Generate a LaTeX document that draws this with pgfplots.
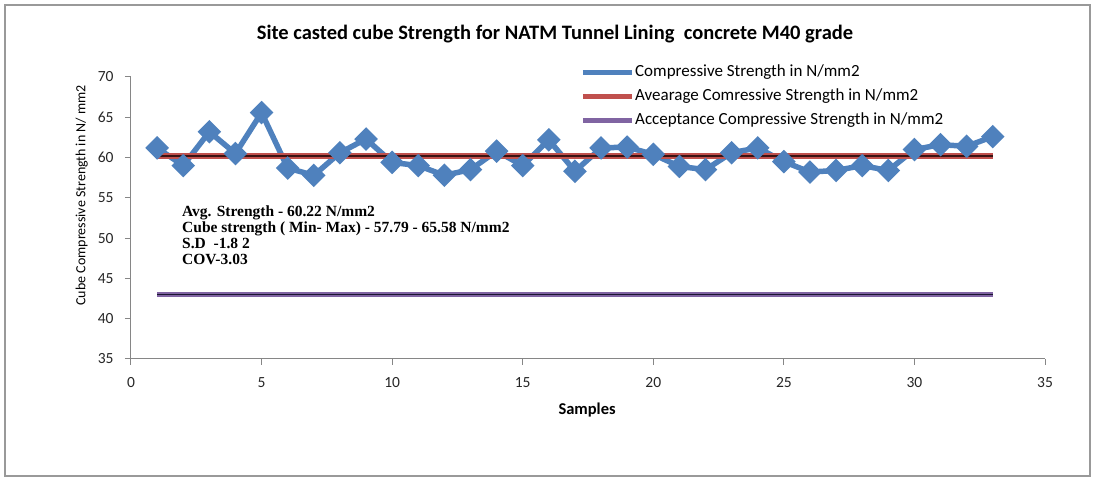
\documentclass[border=0pt]{standalone}
\usepackage{pgfplots}
\pgfplotsset{compat=1.18}
\usepackage{fontspec}
\setmainfont{Carlito}
\newfontfamily\serifb{Liberation Serif}
\definecolor{exblue}{HTML}{4F81BD}
\definecolor{exred}{HTML}{C0504D}
\definecolor{expurple}{HTML}{8064A2}
\definecolor{axgray}{HTML}{868686}
\definecolor{darkred}{HTML}{3A1212}
\definecolor{darknavy}{HTML}{1A1430}
\begin{document}
\begin{tikzpicture}[x=1pt,y=1pt]
\useasboundingbox (-131,-119) rectangle (963,359);
\draw[draw=black!40, line width=1.5pt] (-126,-117) rectangle (959,354);
\begin{axis}[
  at={(0,0)}, anchor=south west,
  width=914pt, height=282pt, scale only axis,
  xmin=0, xmax=35, ymin=35, ymax=70,
  xtick={0,5,...,35}, ytick={35,40,...,70},
  axis x line*=bottom, axis y line*=left,
  axis line style={-, draw=axgray, line width=1pt},
  tick style={draw=axgray, line width=1pt},
  tick align=outside, major tick length=6pt,
  /pgf/number format/assume math mode=true,
  tick label style={font=\fontsize{15.5}{15.5}\selectfont, text=black!85},
  xticklabel style={yshift=-9pt},
  yticklabel style={xshift=-8pt},
  xlabel={\textbf{Samples}},
  xlabel style={at={(axis description cs:0.499,-0.18)}, anchor=center, font=\fontsize{16.5}{16.5}\selectfont},
  ylabel={Cube Compressive Strength in N/ mm2},
  ylabel style={at={(axis description cs:-0.054,0.58)}, anchor=center, font=\fontsize{14}{14}\selectfont},
  legend style={at={(axis description cs:0.4912,1.045)}, anchor=north west, draw=none, fill=none,
     font=\fontsize{17}{17}\selectfont, inner sep=0pt, row sep=8pt,
     nodes={inner sep=0.5pt, text height=11.5pt, text depth=3.5pt}},
  legend cell align=left,
  legend image code/.code={\draw[#1, mark=none] (0pt,0pt) -- (49pt,0pt);},
]
\addplot[exblue, line width=5.5pt, mark=square*, mark size=5.6pt, mark options={solid, rotate=45}] coordinates {
(1,61.2) (2,59.0) (3,63.2) (4,60.5) (5,65.58) (6,58.7) (7,57.79) (8,60.6) (9,62.3) (10,59.4)
(11,59.0) (12,57.8) (13,58.5) (14,60.8) (15,59.0) (16,62.2) (17,58.3) (18,61.2) (19,61.3) (20,60.4)
(21,58.9) (22,58.5) (23,60.6) (24,61.2) (25,59.5) (26,58.2) (27,58.4) (28,59.0) (29,58.4) (30,61.0)
(31,61.6) (32,61.4) (33,62.6)};
\addlegendentry{Compressive Strength in N/mm2}
\addplot[exred, line width=5.5pt] coordinates {(1,60.22) (33,60.22)};
\addlegendentry{Avearage Comressive Strength in N/mm2}
\addplot[expurple, line width=5.5pt] coordinates {(1,43) (33,43)};
\addlegendentry{Acceptance Compressive Strength in N/mm2}
\addplot[darkred, line width=1.6pt, forget plot] coordinates {(1,60.22) (33,60.22)};
\addplot[darknavy, line width=1.6pt, forget plot] coordinates {(1,43) (33,43)};
\end{axis}
\node[font=\bfseries\fontsize{20.5}{20.5}\selectfont] at (424,325) {Site casted cube Strength for NATM Tunnel Lining\ \ concrete M40 grade};
\begin{scope}[every node/.style={anchor=base west, inner sep=0pt, font=\serifb\bfseries\fontsize{15.5}{15.5}\selectfont}]
\node at (51,142.5) {Avg. Strength - 60.22 N/mm2};
\node at (51,126.3) {Cube strength ( Min- Max) - 57.79 - 65.58 N/mm2};
\node at (51,110.5) {S.D \ -1.8 2};
\node at (51,94.5) {COV-3.03};
\end{scope}
\end{tikzpicture}
\end{document}
